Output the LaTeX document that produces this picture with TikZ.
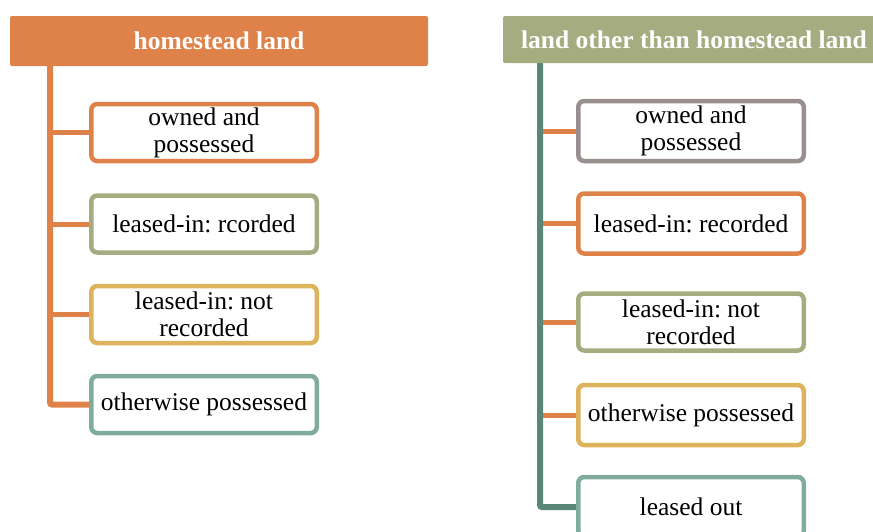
\documentclass[tikz,border=0pt]{standalone}
\usepackage{fontspec}
\setmainfont{Liberation Serif}
\usetikzlibrary{backgrounds}
\frenchspacing
\definecolor{orng}{HTML}{DF8249}
\definecolor{olive}{HTML}{A4AC80}
\definecolor{yell}{HTML}{DDB35C}
\definecolor{tealbox}{HTML}{80AC9E}
\definecolor{graybox}{HTML}{9A8F8F}
\definecolor{darkteal}{HTML}{5A8676}
\begin{document}
\begin{tikzpicture}[x=1pt,y=-1pt,
  hdr/.style={fill=#1, text=white, font=\fontsize{25.5}{27}\selectfont\bfseries, inner sep=0pt, rounded corners=2pt},
  leaf/.style={draw=#1, line width=4.5pt, rounded corners=6pt, fill=white, minimum width=225.5pt, minimum height=57pt, inner sep=0pt, align=center, font=\fontsize{25.5}{27}\selectfont\frenchspacing},
  trunkline/.style={draw=#1, line width=6pt, rounded corners=2pt},
  branchline/.style={draw=#1, line width=5pt}]
\useasboundingbox (0,0) rectangle (873,531);
\clip (0,0) rectangle (873,531);
% headers
\node[hdr=orng, minimum width=418pt, minimum height=50pt] (h1) at (219,41) {homestead land};
\node[hdr=olive, minimum width=382pt, minimum height=47pt] (h2) at (694,39.5) {land other than homestead land};
% trunk tops
\coordinate (t1) at (50,66);
\coordinate (t2) at (540,63);
% boxes
\node[leaf=orng] (a1) at (204,132.5) {owned and\\possessed};
\node[leaf=olive] (a2) at (204,224) {leased-in: rcorded};
\node[leaf=yell] (a3) at (204,314.5) {leased-in: not\\recorded};
\node[leaf=tealbox] (a4) at (204,404.5) {otherwise possessed};
\node[leaf=graybox, minimum height=60pt] (b1) at (691,131) {owned and\\possessed};
\node[leaf=orng, minimum height=60pt] (b2) at (691,223.5) {leased-in: recorded};
\node[leaf=olive] (b3) at (691,322) {leased-in: not\\recorded};
\node[leaf=yell, minimum height=60pt] (b4) at (691,415) {otherwise possessed};
\node[leaf=tealbox, minimum height=60pt] (b5) at (691,507) {leased out};
% connectors under boxes
\begin{scope}[on background layer]
\draw[trunkline=orng] (t1) |- (a4.west);
\draw[branchline=orng] (t1 |- a1.west) -- (a1.west);
\draw[branchline=orng] (t1 |- a2.west) -- (a2.west);
\draw[branchline=orng] (t1 |- a3.west) -- (a3.west);
\draw[branchline=orng] (t2 |- b1.west) -- (b1.west);
\draw[branchline=orng] (t2 |- b2.west) -- (b2.west);
\draw[branchline=orng] (t2 |- b3.west) -- (b3.west);
\draw[branchline=orng] (t2 |- b4.west) -- (b4.west);
\draw[trunkline=darkteal] (t2) |- (b5.west);
\end{scope}
\end{tikzpicture}
\end{document}
